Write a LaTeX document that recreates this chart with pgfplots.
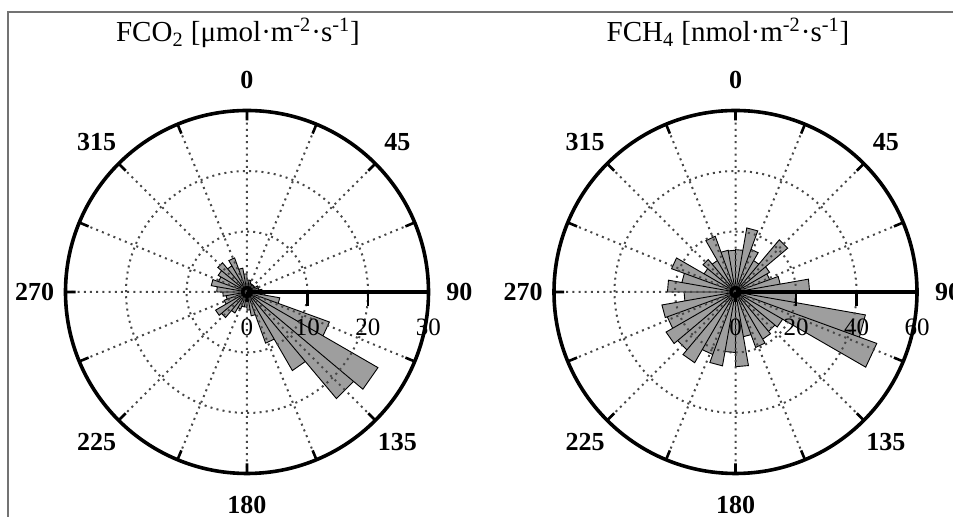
\documentclass[border=0pt]{standalone}
\usepackage{fontspec}
\setmainfont{Liberation Serif}
\usepackage{pgfplots}
\pgfplotsset{compat=1.18}
\usepgfplotslibrary{polar}

\definecolor{barfill}{gray}{0.62}
\definecolor{gridc}{gray}{0.28}
\definecolor{framec}{gray}{0.45}

% compass roses: 0 at the top, clockwise (data angles are compass degrees)
\pgfplotsset{
  rose/.style={
    scale only axis, width=181.5pt, height=181.5pt,
    anchor=center, clip=false, axis on top,
    xmin=0, xmax=360, ymin=0,
    x filter/.expression={90-x},
    xtick={0,45,...,315},
    xticklabels={90,45,0,315,270,225,180,135},
    minor xtick={22.5,67.5,...,337.5},
    grid=both,
    major grid style={gridc, line width=1pt, dash pattern=on 1pt off 2.1pt},
    minor grid style={gridc, line width=1pt, dash pattern=on 1pt off 2.1pt},
    axis line style={line width=1.8pt, black},
    tick align=outside,
    major tick length=5pt, minor tick length=5pt,
    tick style={line width=1.3pt, black},
    xticklabel style={font=\fontsize{13}{13}\selectfont\bfseries, anchor=center,
      xshift={20.5pt*cos(\tick)}, yshift={20.5pt*sin(\tick)}},
    yticklabel style={font=\fontsize{12.5}{12.5}\selectfont, anchor=north, yshift=-15pt},
  },
  rosebar/.style={fill=barfill, draw=black, line width=0.45pt},
  rtick/.style={only marks, mark=|, mark size=3.5pt, mark options={black, line width=1.3pt, yshift=-3.5pt}},
}

\begin{document}
\begin{tikzpicture}
\path[use as bounding box] (0,0) rectangle (476.5pt,258.5pt);
\clip (0,0) rectangle (476.5pt,258.5pt);
\draw[framec, line width=0.8pt] (4pt,0) -- (4pt,252.5pt) -- (476.5pt,252.5pt);

\node[anchor=base, font=\fontsize{14.5}{14.5}\selectfont] at (119pt,237.5pt)
  {FCO\textsubscript{2} [μmol·m\textsuperscript{-2}·s\textsuperscript{-1}]};
\node[anchor=base, font=\fontsize{14.5}{14.5}\selectfont] at (364pt,237.5pt)
  {FCH\textsubscript{4} [nmol·m\textsuperscript{-2}·s\textsuperscript{-1}]};

% FCO2
\begin{polaraxis}[rose, at={(123.5pt,112.5pt)}, ymax=30,
  ytick={0,10,20,30}, yticklabels={0,10,20,30}]
\addplot[rosebar] coordinates {
 (0,0) (0,2) (10,2) (10,0) (10,2) (20,2) (20,0) (20,1.5) (30,1.5) (30,0)
 (30,1.5) (40,1.5) (40,0) (40,1.5) (50,1.5) (50,0) (50,1.5) (60,1.5) (60,0)
 (60,2) (70,2) (70,0) (70,2) (80,2) (80,0) (80,2.5) (90,2.5) (90,0)
 (90,3) (100,3) (100,0) (100,5.5) (110,5.5) (110,0) (110,14.5) (120,14.5) (120,0)
 (120,25) (130,25) (130,0) (130,23) (140,23) (140,0) (140,15) (150,15) (150,0)
 (150,9) (160,9) (160,0) (160,4) (170,4) (170,0) (170,3) (180,3) (180,0)
 (180,2.5) (190,2.5) (190,0) (190,2.5) (200,2.5) (200,0) (200,3) (210,3) (210,0)
 (210,4) (220,4) (220,0) (220,5.5) (230,5.5) (230,0) (230,6) (240,6) (240,0)
 (240,4) (250,4) (250,0) (250,3.5) (260,3.5) (260,0) (260,4) (270,4) (270,0)
 (270,5) (280,5) (280,0) (280,6) (290,6) (290,0) (290,5) (300,5) (300,0)
 (300,5.5) (310,5.5) (310,0) (310,6.3) (320,6.3) (320,0) (320,5) (330,5) (330,0)
 (330,6) (340,6) (340,0) (340,4) (350,4) (350,0) (350,3) (360,3) (360,0)
};
\addplot[black, line width=1.8pt] coordinates {(90,0) (90,30)};
\addplot[rtick] coordinates {(90,10) (90,20)};
\end{polaraxis}

% FCH4
\begin{polaraxis}[rose, at={(367.75pt,112.5pt)}, ymax=60,
  ytick={0,20,40,60}, yticklabels={0,20,40,60}]
\addplot[rosebar] coordinates {
 (0,0) (0,14) (10,14) (10,0) (10,21.5) (20,21.5) (20,0) (20,15) (30,15) (30,0)
 (30,12) (40,12) (40,0) (40,22.5) (50,22.5) (50,0) (50,13) (60,13) (60,0)
 (60,12) (70,12) (70,0) (70,15) (80,15) (80,0) (80,24.5) (90,24.5) (90,0)
 (90,20) (100,20) (100,0) (100,43.6) (110,43.6) (110,0) (110,49.7) (120,49.7) (120,0)
 (120,18) (130,18) (130,0) (130,17) (140,17) (140,0) (140,18) (150,18) (150,0)
 (150,19.5) (160,19.5) (160,0) (160,15) (170,15) (170,0) (170,24.7) (180,24.7) (180,0)
 (180,20) (190,20) (190,0) (190,24.8) (200,24.8) (200,0) (200,22) (210,22) (210,0)
 (210,27) (220,27) (220,0) (220,25) (230,25) (230,0) (230,26.5) (240,26.5) (240,0)
 (240,24) (250,24) (250,0) (250,24.7) (260,24.7) (260,0) (260,17) (270,17) (270,0)
 (270,22.5) (280,22.5) (280,0) (280,18) (290,18) (290,0) (290,22.5) (300,22.5) (300,0)
 (300,12) (310,12) (310,0) (310,14) (320,14) (320,0) (320,12) (330,12) (330,0)
 (330,19.6) (340,19.6) (340,0) (340,14) (350,14) (350,0) (350,13.8) (360,13.8) (360,0)
};
\addplot[black, line width=1.8pt] coordinates {(90,0) (90,60)};
\addplot[rtick] coordinates {(90,20) (90,40)};
\end{polaraxis}
\end{tikzpicture}
\end{document}
